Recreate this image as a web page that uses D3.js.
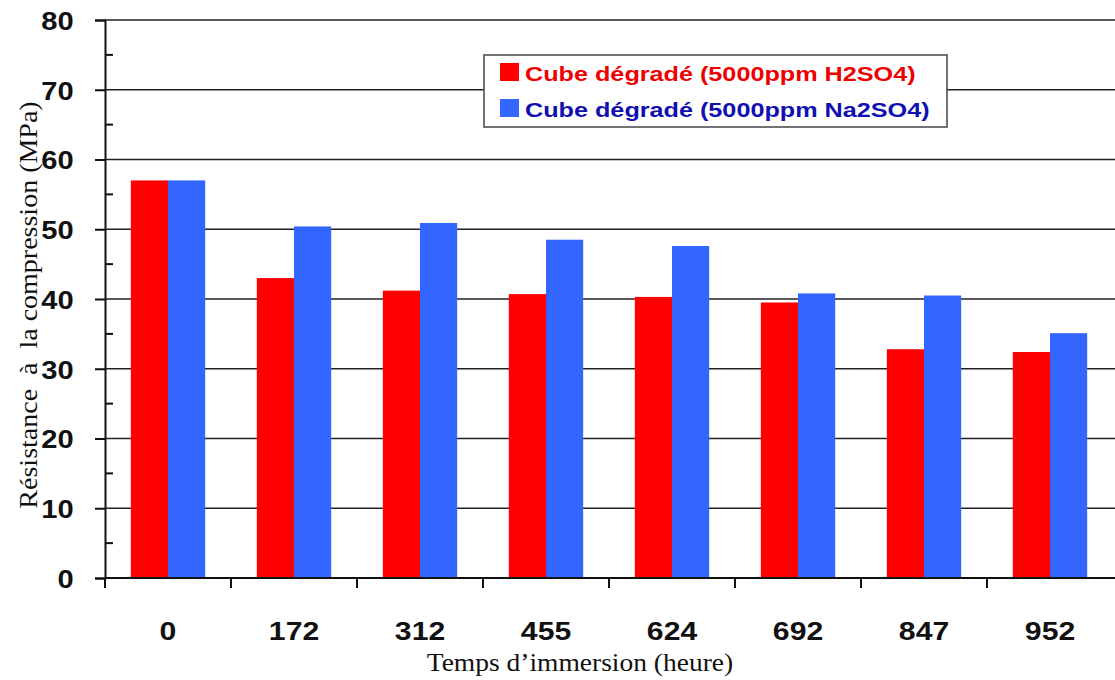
<!DOCTYPE html>
<html><head><meta charset="utf-8">
<script src="https://cdn.jsdelivr.net/npm/d3@7/dist/d3.min.js"></script>
<style>
html,body{margin:0;padding:0;background:#fff;}
svg{display:block;}
</style></head>
<body>
<svg id="chart" width="1115" height="680"></svg>
<script>
const categories = ["0","172","312","455","624","692","847","952"];
const seriesNames = ["Cube dégradé (5000ppm H2SO4)","Cube dégradé (5000ppm Na2SO4)"];
const h2so4 = [57.0, 43.0, 41.2, 40.7, 40.3, 39.5, 32.8, 32.4];
const na2so4 = [57.0, 50.4, 50.9, 48.5, 47.6, 40.8, 40.5, 35.1];
const yTicks = [0,10,20,30,40,50,60,70,80];
const yMinorTicks = [5,15,25,35,45,55,65,75];
const xTitle = "Temps d\u2019immersion (heure)";
const yTitle = "Résistance  à  la compression (MPa)";

const barColors = ["#ff0000","#3366ff"];
const textColors = ["#ee0000","#1010b0"];

const svg = d3.select("#chart");
const pLeft = 105, pRight = 1113, pTop = 20, pBottom = 578;

const y = d3.scaleLinear().domain([0,80]).range([pBottom, pTop]);
const x0 = d3.scaleBand().domain(categories).range([pLeft, pRight]).paddingInner(0).paddingOuter(0);
const x1 = d3.scaleBand().domain([0,1]).range([x0.bandwidth()*0.205, x0.bandwidth()*0.795]).padding(0);

// gridlines
svg.append("g").selectAll("line").data(yTicks.filter(d=>d>0)).join("line")
  .attr("x1", pLeft).attr("x2", 1115)
  .attr("y1", d=>y(d)).attr("y2", d=>y(d))
  .attr("stroke", "#222").attr("stroke-width", 1.5);

// bars
const data = categories.map((c,i)=>({c, v:[h2so4[i], na2so4[i]]}));
const groups = svg.append("g").selectAll("g").data(data).join("g")
  .attr("transform", d=>`translate(${x0(d.c)},0)`);
groups.selectAll("rect").data(d=>d.v.map((v,k)=>({v,k}))).join("rect")
  .attr("x", d=>x1(d.k)).attr("width", x1.bandwidth())
  .attr("y", d=>y(d.v)).attr("height", d=>y(0)-y(d.v))
  .attr("fill", d=>barColors[d.k]);

// y axis
const yAxis = svg.append("g").attr("transform", `translate(${pLeft},0)`)
  .call(d3.axisLeft(y).tickValues(yTicks).tickSize(10).tickPadding(18).tickFormat(d3.format("d")));
yAxis.select(".domain").attr("stroke","#111").attr("stroke-width",2);
yAxis.selectAll(".tick line").attr("stroke","#111").attr("stroke-width",2);
yAxis.selectAll(".tick text")
  .attr("font-family","Liberation Sans, Arial, sans-serif")
  .attr("font-weight","bold").attr("font-size","26px").attr("fill","#111")
  .attr("dy","0.36em")
  .attr("transform","scale(1.12,1)");
// minor ticks inside
svg.append("g").selectAll("line").data(yMinorTicks).join("line")
  .attr("x1", pLeft).attr("x2", pLeft+8)
  .attr("y1", d=>y(d)).attr("y2", d=>y(d))
  .attr("stroke","#111").attr("stroke-width",2);

// x axis
const xAxis = svg.append("g").attr("transform", `translate(0,${pBottom})`)
  .call(d3.axisBottom(x0).tickSize(0).tickPadding(0));
xAxis.select(".domain").remove();
svg.append("line").attr("x1", pLeft).attr("x2", 1115).attr("y1", pBottom).attr("y2", pBottom)
  .attr("stroke","#111").attr("stroke-width",2);
svg.append("g").selectAll("line").data(categories).join("line")
  .attr("x1", d=>x0(d)).attr("x2", d=>x0(d))
  .attr("y1", pBottom).attr("y2", pBottom+10)
  .attr("stroke","#111").attr("stroke-width",2);
xAxis.selectAll(".tick text")
  .attr("dy", 0).attr("y", 62).attr("x", 0)
  .attr("font-family","Liberation Sans, Arial, sans-serif")
  .attr("font-weight","bold").attr("font-size","26px").attr("fill","#111")
  .attr("transform","scale(1.16,1)");

// axis titles
svg.append("text").attr("transform","translate(580,671) scale(1.1,1)").attr("text-anchor","middle")
  .attr("font-family","Liberation Serif, Times New Roman, serif")
  .attr("font-size","25px").attr("fill","#111").text(xTitle);
svg.append("text").attr("transform","translate(37,305) rotate(-90) scale(1.12,1)").attr("text-anchor","middle")
  .attr("font-family","Liberation Serif, Times New Roman, serif")
  .attr("font-size","25px").attr("fill","#111").style("white-space","pre")
  .text(yTitle);

// legend
const lg = svg.append("g");
lg.append("rect").attr("x",484).attr("y",55).attr("width",463).attr("height",72)
  .attr("fill","#fff").attr("stroke","#444").attr("stroke-width",1.5);
seriesNames.forEach((name,i)=>{
  const yy = 63 + i*36;
  lg.append("rect").attr("x",500).attr("y",yy).attr("width",19).attr("height",18).attr("fill",barColors[i]);
  lg.append("text").attr("transform",`translate(525,${yy+18}) scale(1.2,1)`)
    .attr("font-family","Liberation Sans, Arial, sans-serif").attr("font-weight","bold")
    .attr("font-size","21px").attr("fill",textColors[i]).text(name);
});
</script>
</body></html>
